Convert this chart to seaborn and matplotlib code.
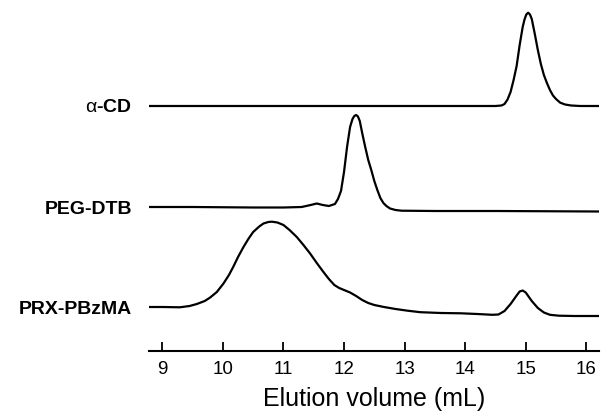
"""
GPC traces: alpha-CD, PEG-DTB, PRX-PBzMA (stacked, offset)
"""

import pandas as pd
import numpy as np
import matplotlib
matplotlib.use('Agg')
import matplotlib.pyplot as plt
import seaborn as sns

sns.set_style("white")
plt.rcParams['font.family'] = ['Liberation Sans', 'DejaVu Sans']
plt.rcParams['mathtext.fontset'] = 'custom'
plt.rcParams['mathtext.rm'] = 'Liberation Sans'
plt.rcParams['text.color'] = 'black'
plt.rcParams['axes.labelcolor'] = 'black'
plt.rcParams['axes.edgecolor'] = 'black'
plt.rcParams['xtick.color'] = 'black'
plt.rcParams['ytick.color'] = 'black'

# elution volume (mL) / detector signal (a.u.)
acd_x = [8.78, 10.0, 12.0, 14.5, 14.6, 14.65, 14.7, 14.75, 14.8, 14.85, 14.9, 14.95,
         14.98, 15.01, 15.04, 15.07, 15.1, 15.15, 15.2, 15.25, 15.3, 15.35, 15.4,
         15.45, 15.5, 15.57, 15.65, 15.75, 15.9, 16.21]
acd_y = [0, 0, 0, 0, 0.5, 2, 6.5, 14, 26, 40, 61, 79,
         86.5, 91.5, 93.3, 91.5, 87, 72, 56, 42, 31, 23, 16,
         10.5, 7, 3.3, 1.5, 0.5, 0, 0]

peg_x = [8.78, 9.5, 10.5, 11.0, 11.3, 11.45, 11.55, 11.65, 11.75, 11.85, 11.9, 11.95,
         12.0, 12.05, 12.1, 12.14, 12.17, 12.2, 12.23, 12.26, 12.3, 12.35, 12.4, 12.45,
         12.5, 12.55, 12.6, 12.65, 12.7, 12.76, 12.85, 12.95, 13.5, 14.5, 16.21]
peg_y = [0, 0, -0.5, -0.5, 0, 2, 3.5, 2, 1, 3, 8, 16,
         35, 60, 80, 88, 91, 92, 90.5, 86, 74, 60, 47, 37,
         26, 17, 9, 4, 1, -1.5, -3, -3.7, -4, -4, -4.5]

prx_x = [8.78, 9.0, 9.29, 9.45, 9.57, 9.7, 9.79, 9.9, 10.01, 10.1, 10.17, 10.25,
         10.34, 10.42, 10.5, 10.6, 10.67, 10.75, 10.81, 10.9, 11.0, 11.1, 11.22,
         11.33, 11.44, 11.55, 11.66, 11.75, 11.84, 11.92, 12.0, 12.1, 12.2, 12.3,
         12.4, 12.5, 12.66, 12.85, 13.05, 13.26, 13.6, 13.93, 14.2, 14.45, 14.55,
         14.65, 14.75, 14.85, 14.9, 14.95, 15.0, 15.1, 15.2, 15.3, 15.4, 15.55, 15.8, 16.21]
prx_y = [0, 0, -0.3, 1, 3, 6, 9.5, 15, 23.5, 32, 40, 50,
         60, 68, 75, 80.5, 83.5, 85, 85.3, 84.5, 82, 77, 70,
         62, 53.5, 44, 35, 28, 22, 19, 17, 14.5, 11, 7,
         4, 2, 0, -2, -3.7, -5.2, -6, -6.3, -7, -7.8, -7.5,
         -4, 3, 11.5, 15.5, 16.5, 14.5, 6, -1, -5.5, -7.8, -8.7, -9, -9]

names = [r'$\mathrm{\alpha}$-CD', 'PEG-DTB', 'PRX-PBzMA']
offsets = [245, 144, 44]

frames = []
for name, xs, ys, off in zip(names, [acd_x, peg_x, prx_x], [acd_y, peg_y, prx_y], offsets):
    frames.append(pd.DataFrame({'vol': xs, 'sig': np.array(ys) + off, 'trace': name}))
df = pd.concat(frames, ignore_index=True)

fig = plt.figure(figsize=(6.02, 4.13), dpi=100)
ax = fig.add_axes([149 / 602, 62 / 413, 450 / 602, 346 / 413])

sns.lineplot(data=df, x='vol', y='sig', units='trace', estimator=None, sort=False,
             color='black', linewidth=1.6, ax=ax, legend=False)

ax.set_xlim(8.78, 16.21)
ax.set_ylim(0, 346)
ax.set_xticks(range(9, 17))
ax.set_yticks(offsets)
ax.set_yticklabels(names, fontsize=14, fontweight='bold')
ax.tick_params(axis='y', left=False, length=0, pad=12)
ax.tick_params(axis='x', bottom=True, direction='in', length=6.5, width=1.3,
               labelsize=13.5, pad=7)
ax.set_xlabel('Elution volume (mL)', fontsize=18, labelpad=7)
ax.set_ylabel('')

sns.despine(ax=ax, left=True, top=True, right=True)
ax.spines['bottom'].set_linewidth(1.5)

plt.savefig('out.png', dpi=100)
plt.close()
